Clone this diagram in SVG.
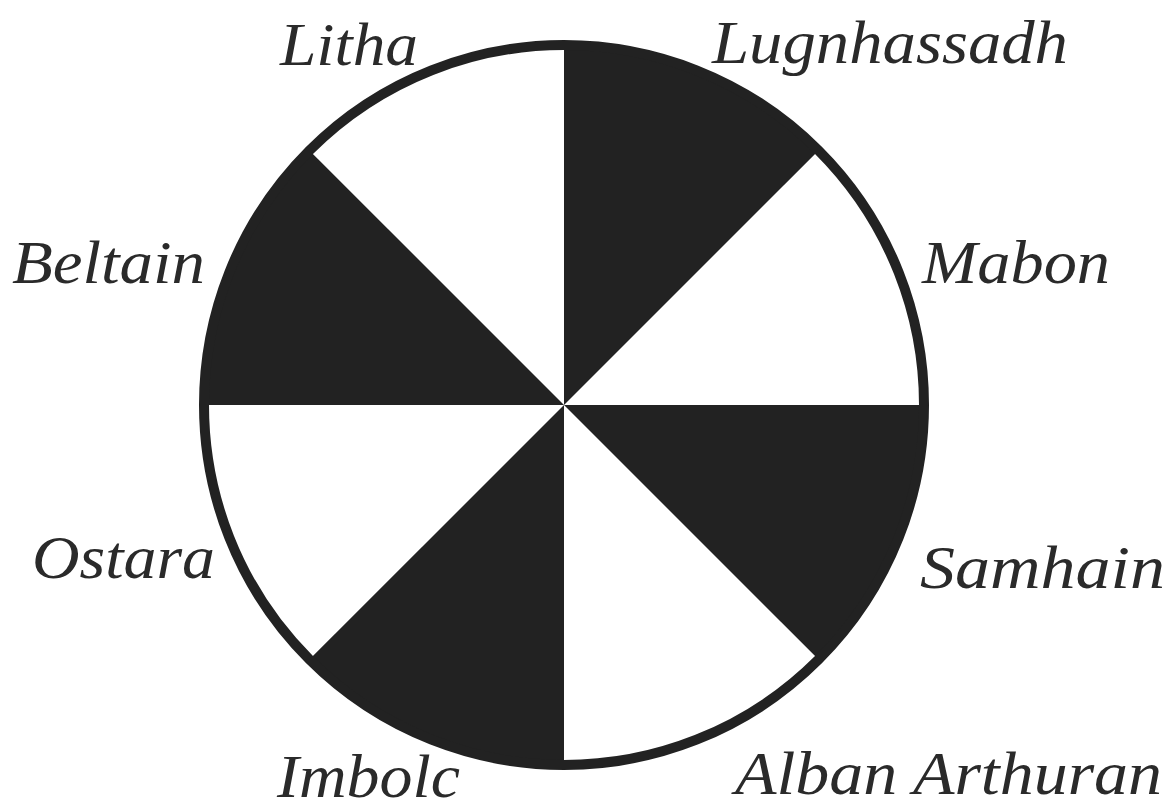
<svg xmlns="http://www.w3.org/2000/svg" width="1173" height="809" viewBox="0 0 1173 809">
<style>
.lbl{font-family:"Liberation Serif","DejaVu Serif",serif;font-style:italic;font-size:62px;fill:#2a2a2a}
.dark{fill:#222}
</style>
<rect width="1173" height="809" fill="#fff"/>
<g id="wheel">
<circle cx="564" cy="405" r="360" fill="#fff"/>
<path class="dark" d="M564,405 L564,45 A360,360 0 0 1 818.6,150.4 Z"/>
<path class="dark" d="M564,405 L924,405 A360,360 0 0 1 818.6,659.6 Z"/>
<path class="dark" d="M564,405 L564,765 A360,360 0 0 1 309.4,659.6 Z"/>
<path class="dark" d="M564,405 L204,405 A360,360 0 0 1 309.4,150.4 Z"/>
<circle cx="564" cy="405" r="360" fill="none" stroke="#222" stroke-width="10"/>
</g>
<g id="labels">
<text class="lbl" x="280" y="65" textLength="138" lengthAdjust="spacingAndGlyphs">Litha</text>
<text class="lbl" x="712" y="63" textLength="356" lengthAdjust="spacingAndGlyphs">Lugnhassadh</text>
<text class="lbl" x="12" y="283" textLength="193" lengthAdjust="spacingAndGlyphs">Beltain</text>
<text class="lbl" x="922" y="283" textLength="188" lengthAdjust="spacingAndGlyphs">Mabon</text>
<text class="lbl" x="32" y="578" textLength="183" lengthAdjust="spacingAndGlyphs">Ostara</text>
<text class="lbl" x="920" y="588" textLength="245" lengthAdjust="spacingAndGlyphs">Samhain</text>
<text class="lbl" x="277" y="797" textLength="183" lengthAdjust="spacingAndGlyphs">Imbolc</text>
<text class="lbl" x="735" y="794" textLength="427" lengthAdjust="spacingAndGlyphs">Alban Arthuran</text>
</g>
</svg>
